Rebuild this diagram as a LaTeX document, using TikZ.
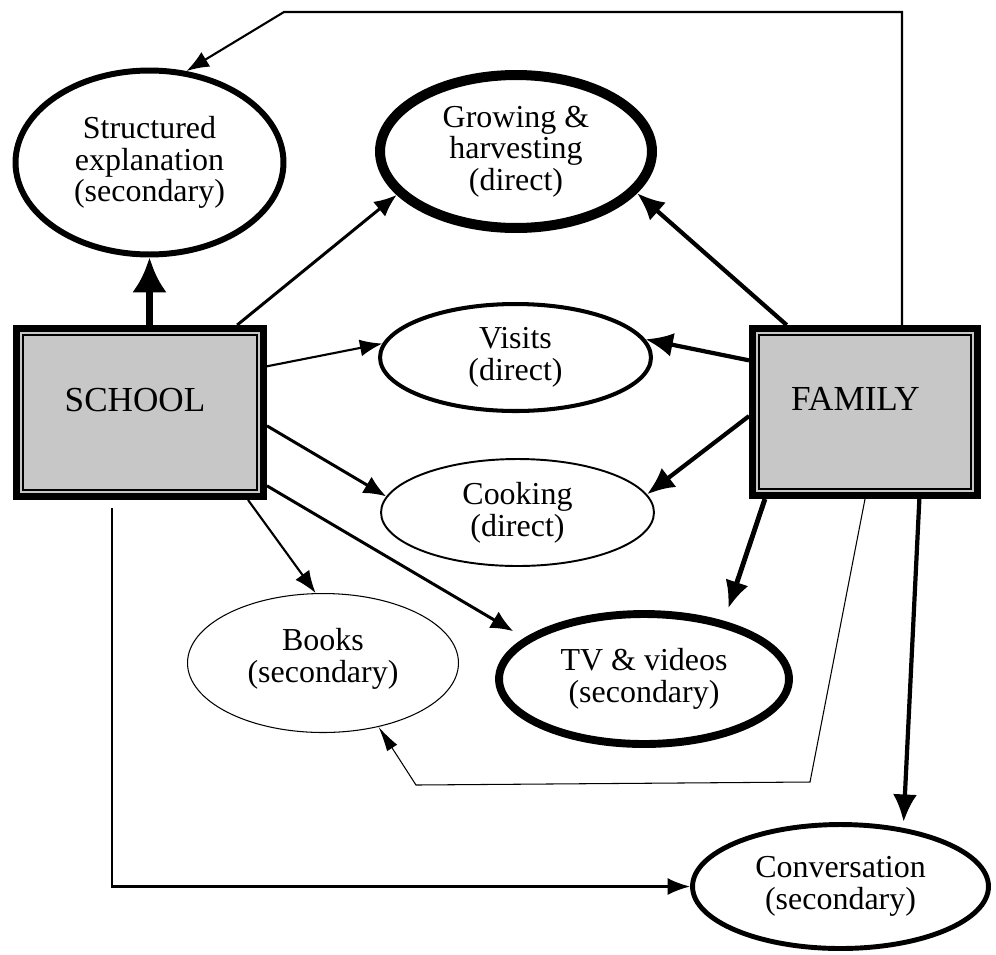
\documentclass[tikz,border=0pt]{standalone}
\usepackage{fontspec}
\setmainfont{Liberation Serif}
\usetikzlibrary{arrows.meta,shapes.geometric,calc}

\tikzset{
  topic/.style={draw, ellipse, inner sep=0pt, align=center, font=\fontsize{18.2}{18}\selectfont},
  agent/.style={draw, rectangle, fill=black!22, line width=4pt, inner sep=0pt,
    font=\fontsize{20}{22}\selectfont, text height=0.5cm, text depth=0.56cm},
  hairlink/.style={line width=0.6pt, -{Latex[length=0.5cm,width=0.24cm]}},
  thinlink/.style={line width=1.2pt, -{Latex[length=0.45cm,width=0.34cm]}},
  midlink/.style={line width=1.7pt, -{Latex[length=0.45cm,width=0.38cm]}},
  boldlink/.style={line width=2.4pt, -{Latex[length=0.55cm,width=0.48cm]}},
  heavylink/.style={line width=4pt, -{Latex[length=0.7cm,width=0.7cm]}},
}

\begin{document}
\begin{tikzpicture}[x=0.02cm,y=-0.02cm]
\useasboundingbox (0,0) rectangle (996,954);

% Sources
\node[agent, minimum width=4.94cm, minimum height=3.36cm] (school) at (140,412.5) {SCHOOL\kern0.2cm};
\node[agent, minimum width=4.5cm, minimum height=3.34cm] (family) at (865,412) {FAMILY\kern0.38cm};
\draw[line width=1.1pt] ($(school.north west)+(10,10)$) rectangle ($(school.south east)+(-10,-10)$);
\draw[line width=1.1pt] ($(family.north west)+(10,10)$) rectangle ($(family.south east)+(-10,-10)$);

% Activities
\node[topic, line width=3.4pt, minimum width=5.36cm, minimum height=3.68cm] (structured) at (149.5,162.5) {Structured\\explanation\\(secondary)};
\node[topic, line width=5.7pt, minimum width=5.44cm, minimum height=3.06cm] (growing) at (516,151.5) {Growing \&\\harvesting\\(direct)};
\node[topic, line width=2.3pt, minimum width=5.42cm, minimum height=2.14cm] (visits) at (515.5,357.5) {Visits\\(direct)};
\node[topic, line width=1.1pt, minimum width=5.46cm, minimum height=2.14cm] (cooking) at (517.5,512.5) {Cooking\\(direct)};
\node[topic, line width=0.6pt, minimum width=5.42cm, minimum height=2.78cm, text depth=0.3cm] (books) at (323,663) {Books\\(secondary)};
\node[topic, line width=4.5pt, minimum width=5.8cm, minimum height=2.6cm] (tv) at (644,679) {TV \& videos\\(secondary)};
\node[topic, line width=2.8pt, minimum width=5.92cm, minimum height=2.48cm] (conversation) at (840.5,886.5) {Conversation\\(secondary)};

% Bends
\coordinate (topbend) at (284,12);
\coordinate (lowright) at (810,782);
\coordinate (lowleft) at (416,785);

% Links from school
\draw[heavylink] (school.north -| structured.south) -- (structured.south);
\draw[midlink] (school.42) -- (growing.200);
\draw[thinlink] (school.20) -- (visits.174);
\draw[midlink] (school.-6) -- (cooking.173);
\draw[thinlink] (school.-39) -- (books.96);
\draw[midlink, shorten >=0.26cm] (school.-30) -- (tv.161);
\draw[thinlink, shorten <=0.16cm] (school.-108) |- (conversation.west);

% Links from family
\draw[boldlink] (family.132) -- (growing.-19);
\draw[boldlink] (family.156) -- (visits.8);
\draw[boldlink] (family.182) -- (cooking.8);
\draw[boldlink, line width=2.8pt, shorten >=0.26cm] (family.221) -- (tv.36);
\draw[boldlink, shorten >=0.12cm] (family.-58) -- (conversation.43);
\draw[thinlink] (family.67) |- (topbend) -- (structured.68);
\draw[hairlink] (family.south) -- (lowright) -- (lowleft) -- (books.-49);

\end{tikzpicture}
\end{document}
